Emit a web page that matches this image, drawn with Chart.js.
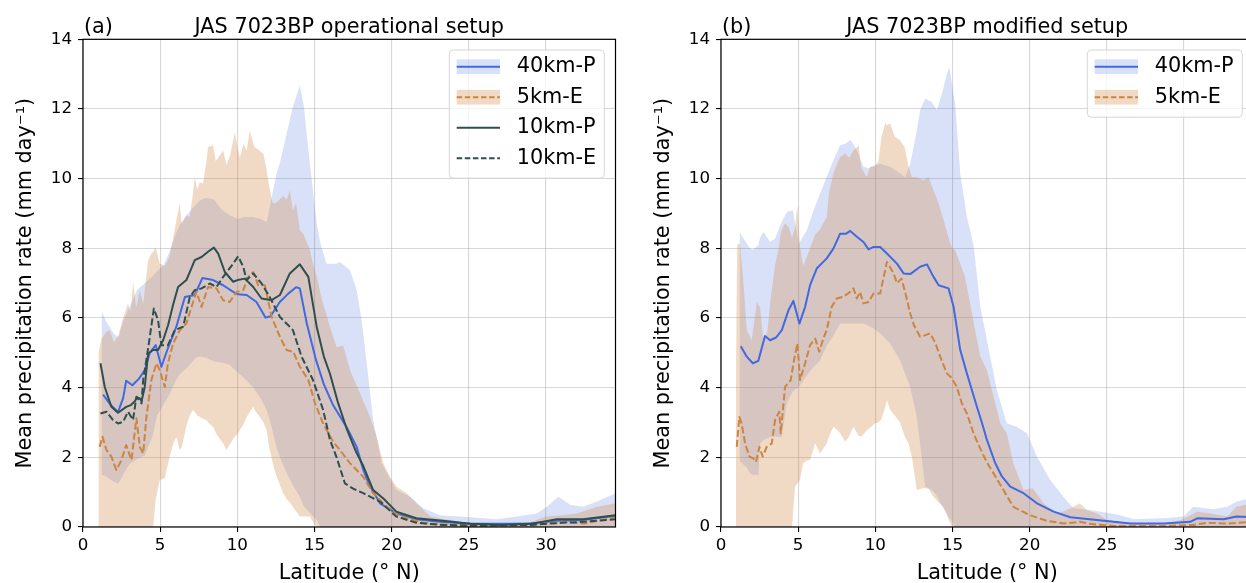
<!DOCTYPE html>
<html><head><meta charset="utf-8">
<script src="https://cdn.jsdelivr.net/npm/chart.js@4.4.1/dist/chart.umd.min.js"></script>
<style>
html,body{margin:0;padding:0;background:#fff;overflow:hidden;width:1246px;height:583px;position:relative;}
#ca{position:absolute;left:0;top:0;}
#cb{position:absolute;left:638px;top:0;}
</style></head><body>
<canvas id="ca" width="624" height="584"></canvas>
<canvas id="cb" width="624" height="584"></canvas>
<script>
// ---------- axis ticks ----------
const xTickStep = 5;          // 0,5,...,30
const yTickStep = 2;          // 0,2,...,14
const xMax = 34.5, yMax = 14;

// ---------- panel (a): operational setup ----------
const latA40 = [1.3,1.8,2.27,2.6,2.8,3.2,3.63,4.0,4.33,4.71,5.08,5.5,6.05,6.6,7.24,7.74,8.43,9.08,9.73,10.05,10.6,11.24,11.83,12.15,12.75,13.3,13.8,14.05,14.5,15.1,15.6,16.2,17.1,17.73,18.16,18.5,19.24,20.3,21.6,23.1,25.1,26.8,29,30.7,32.4,34.5];
const valA40 = [3.8,3.5,3.3,3.7,4.2,4.07,4.26,4.5,5.0,5.22,4.6,5.13,5.75,6.6,6.66,7.15,7.09,6.94,6.75,6.68,6.66,6.46,6.01,6.05,6.46,6.7,6.88,6.85,5.84,4.79,4.1,3.5,2.85,2.3,1.64,1.25,0.68,0.39,0.22,0.15,0.09,0.09,0.1,0.18,0.2,0.32];

const latA5E = [1.08,1.26,1.52,1.84,2.16,2.49,2.8,3.14,3.46,3.68,3.9,4.11,4.43,4.76,4.97,5.3,5.5,5.84,6.27,6.7,7.03,7.35,7.68,8.1,8.65,9.08,9.51,9.95,10.38,10.7,11.03,11.35,11.78,12.22,12.76,13.19,13.62,14.05,14.6,15.03,15.56,16.2,16.65,17.3,18.16,18.8,19.68,20.5,22.05,23.8,26,29,31,32.5,34.5];
const valA5E = [2.3,2.59,2.21,2.02,1.64,1.92,2.35,1.92,3.12,2.3,2.11,3.16,4.22,4.7,4.5,4.02,4.7,5.27,5.65,5.84,6.32,6.75,6.32,6.89,6.85,6.51,6.46,6.75,6.8,7.18,7.32,6.94,6.94,6.03,5.46,5.08,5.03,4.6,4.22,3.55,2.97,2.45,2.21,1.83,1.44,0.97,0.58,0.32,0.12,0.06,0.03,0.06,0.15,0.1,0.28];

const latA10P = [1.13,1.41,1.84,2.27,2.8,3.1,3.35,3.5,3.68,3.8,4.0,4.22,4.54,4.86,5.19,5.51,5.85,6.16,6.7,7.0,7.24,7.68,8.1,8.48,8.76,9.19,9.73,10.1,10.49,11.03,11.57,12.22,12.76,13.4,14.05,14.6,15.14,15.6,16.0,16.5,17.1,17.7,18.16,18.8,19.46,20.3,21.6,23.3,25.1,27,29,30.7,32.4,34.5];
const valA10P = [4.7,4.02,3.45,3.28,3.45,3.5,3.6,3.72,3.69,3.62,4.02,4.98,5.08,5.08,5.36,5.79,6.4,6.89,7.09,7.4,7.66,7.75,7.9,8.02,7.85,7.32,7.04,7.1,7.13,6.89,6.56,6.51,6.66,7.28,7.54,7.18,5.75,4.9,4.4,3.6,2.8,2.15,1.75,1.06,0.82,0.44,0.25,0.18,0.09,0.06,0.09,0.22,0.22,0.34];

const latA10E = [1.13,1.52,1.95,2.27,2.6,2.92,3.24,3.46,3.79,3.9,4.22,4.59,4.86,5.08,5.5,5.95,6.49,6.92,7.24,7.68,8.22,8.65,9.08,9.73,10.05,10.38,10.6,11.03,11.57,12.1,12.76,13.3,13.6,14.16,14.9,15.56,16.0,16.43,16.97,17.5,18.16,19.24,20.3,21.6,23.3,25,29,31,32.5,34.5];
const valA10E = [3.26,3.31,3.07,2.97,3.02,3.31,3.07,3.74,3.55,4.22,5.13,6.27,5.94,5.22,5.22,5.65,5.75,6.6,6.8,6.85,6.99,6.89,7.18,7.56,7.77,7.47,7.09,7.28,6.99,6.6,6.03,5.79,5.65,4.89,4.22,3.36,2.5,2.0,1.25,1.1,0.97,0.73,0.3,0.12,0.06,0.04,0.06,0.12,0.15,0.22];

// 40km-P spread band (a)
const bandA40Lat = [1.2,1.5,2.0,2.3,2.6,3.0,3.5,4.0,4.5,4.8,5.2,5.6,6.0,6.3,6.8,7.3,7.6,8.0,8.5,9.0,9.5,10.0,10.5,11.0,11.5,11.9,12.2,12.54,12.75,13.2,13.6,14.05,14.3,14.7,15.14,15.4,15.78,16.4,16.65,17.3,17.73,18.05,18.38,18.8,19.35,20.3,21.2,22.05,23.1,25.1,26.8,28.1,29.4,30.05,30.8,31.6,32.4,33.3,34.5];
const bandA40Lo  = [1.5,1.45,1.3,1.25,1.5,1.8,1.95,2.05,2.6,3.2,3.5,3.8,4.2,4.4,4.6,4.85,4.9,4.85,4.75,4.72,4.65,4.45,4.25,4.02,3.7,3.36,2.9,2.3,2.0,1.54,1.2,0.87,0.6,0.4,0.2,0,0,0,0,0,0,0,0,0,0,0,0,0,0,0,0,0,0,0,0,0,0,0,0];
const bandA40Hi  = [6.2,5.9,5.55,5.45,5.9,6.3,6.8,7.0,7.2,7.35,7.5,7.9,8.4,8.7,9.0,9.25,9.38,9.45,9.4,9.1,8.95,8.85,8.9,8.9,8.85,8.75,9.4,10.15,10.45,11.3,12.06,12.68,12.1,10.43,8.71,8.1,7.56,7.56,7.61,7.37,6.8,5.94,4.7,3.07,1.83,1.06,0.87,0.54,0.34,0.28,0.22,0.3,0.39,0.58,0.87,0.63,0.58,0.73,0.97];

// 5km-E spread band (a)
const bandA5Lat = [1.0,1.2,1.5,1.73,2.0,2.3,2.6,2.9,3.1,3.24,3.45,3.68,3.9,4.1,4.22,4.43,4.55,4.71,4.97,5.3,5.6,5.85,6.05,6.27,6.4,6.7,6.92,7.13,7.24,7.4,7.57,7.78,8.0,8.1,8.43,8.6,8.76,9.08,9.3,9.55,9.84,10.0,10.16,10.4,10.6,10.81,11.03,11.13,11.46,11.7,11.9,12.05,12.3,12.5,12.97,13.2,13.4,13.6,13.8,14.05,14.3,14.7,14.9,15.14,15.5,16.0,16.43,16.86,17.3,17.95,18.6,19.03,19.46,19.89,20.3,20.97,21.6,22.5,23.5,24.6,26.5,29,30,31,32,33.3,34.5];
const bandA5Lo  = [0,0,0,0,0,0,0,0,0,0,0,0,0,0,0,0,0,0.8,1.35,1.4,2.0,2.4,2.59,2.2,2.3,2.9,3.2,3.36,3.3,3.2,3.16,3.1,3.07,3.0,2.88,2.7,2.6,2.4,2.21,2.4,2.6,2.65,2.78,2.95,3.16,3.3,3.45,3.35,3.16,3.0,2.78,2.3,1.83,1.5,0.97,0.8,0.7,0.58,0.45,0.3,0.3,0.3,0.15,0,0,0,0,0,0,0,0,0,0,0,0,0,0,0,0,0,0,0,0,0,0,0,0];
const bandA5Hi  = [5.0,5.4,5.6,5.65,5.3,5.5,6.0,6.4,6.2,7.04,6.3,6.8,6.4,7.2,7.66,7.85,7.9,8.04,7.56,7.5,7.75,8.3,8.81,9.29,8.7,8.95,8.9,9.6,10.05,9.7,9.9,9.86,10.5,10.91,10.96,10.5,10.6,10.81,10.4,10.7,11.34,10.9,10.6,11.0,10.8,11.39,11.0,10.9,10.8,10.7,10.24,9.8,9.29,9.3,9.5,9.4,9.67,9.1,9.3,8.52,8.4,7.95,7.56,7.2,6.5,5.75,5.17,5.2,4.5,3.84,3.16,2.59,1.83,1.44,1.16,0.97,0.68,0.3,0.22,0.14,0.1,0.14,0.3,0.34,0.39,0.58,0.68];

// ---------- panel (b): modified setup ----------
const latB40 = [1.28,1.67,2.06,2.42,2.85,3.18,3.57,3.94,4.37,4.69,5.08,5.45,5.77,6.2,6.85,7.28,7.72,8.11,8.37,8.8,9.23,9.56,9.88,10.31,10.75,11.4,11.83,12.26,12.9,13.34,13.77,14.1,14.74,15.07,15.5,15.93,16.58,16.9,17.23,17.77,18.2,18.74,19.6,20.47,21.55,22.63,24.36,26.52,28.68,30.4,30.85,32.57,33.4,34.5];
const valB40 = [5.19,4.89,4.7,4.77,5.48,5.36,5.44,5.65,6.22,6.49,5.84,6.32,6.94,7.42,7.71,7.99,8.42,8.42,8.5,8.33,8.18,7.97,8.04,8.04,7.85,7.56,7.28,7.26,7.47,7.54,7.18,6.94,6.85,6.32,5.08,4.41,3.45,3.0,2.5,1.83,1.45,1.16,0.97,0.68,0.44,0.28,0.2,0.1,0.1,0.15,0.25,0.22,0.3,0.28];

const latB5E = [1.02,1.19,1.34,1.56,1.84,2.1,2.27,2.49,2.7,2.96,3.29,3.5,3.78,3.87,4.15,4.52,4.73,4.95,5.12,5.45,5.77,6.1,6.37,6.63,6.85,7.17,7.5,7.93,8.37,8.58,8.8,9.0,9.23,9.56,9.88,10.31,10.55,10.75,10.9,11.18,11.4,11.69,11.9,12.26,12.5,12.9,13.2,13.55,13.9,14.2,14.63,14.9,15.28,15.6,15.93,16.36,16.8,17.23,17.66,18.3,18.94,20.0,21.1,22.2,23.25,23.9,25.4,28.7,30.6,31.5,32.8,34.5];
const valB5E = [2.3,3.16,2.97,2.4,2.02,1.97,1.87,2.3,2.02,2.3,2.4,3.07,3.31,2.69,4.02,4.22,4.79,5.27,4.22,4.7,5.22,5.41,5.03,5.41,5.65,6.32,6.56,6.61,6.75,6.85,6.56,6.75,6.42,6.46,6.7,6.7,7.2,7.61,7.5,7.28,7.0,7.13,6.8,6.13,5.79,5.46,5.5,5.56,5.27,4.89,4.41,4.3,4.02,3.55,3.26,2.69,2.25,1.85,1.54,1.06,0.58,0.34,0.18,0.1,0.15,0.09,0.03,0.03,0.06,0.12,0.1,0.15];

const bandB40Lat = [1.2,1.67,1.88,2.06,2.42,2.53,2.75,3.18,3.5,3.94,4.26,4.65,5.04,5.56,6.0,6.42,6.85,7.28,7.72,8.04,8.4,8.8,9.23,9.55,9.88,10.31,10.96,11.6,11.93,12.26,12.69,12.9,13.23,13.66,13.99,14.31,14.63,14.8,15.07,15.17,15.5,15.93,16.36,16.8,17.44,17.87,18.52,19.17,19.82,20.47,21.33,22.18,22.83,23.9,25.0,25.9,26.74,28.7,29.97,30.6,31.9,32.8,33.4,34.5];
const bandB40Lo  = [1.9,1.7,1.54,1.5,1.49,2.4,2.5,2.59,2.59,2.59,3.55,3.9,4.02,4.35,4.6,4.79,5.2,5.5,5.84,5.84,5.84,5.84,5.84,5.78,5.7,5.56,5.27,4.79,4.4,4.02,3.16,2.4,1.16,1.06,0.9,0.6,0.39,0.25,0.1,0,0,0,0,0,0,0,0,0,0,0,0,0,0,0,0,0,0,0,0,0,0,0,0,0];
const bandB40Hi  = [8.47,8.14,8.0,7.95,8.09,8.3,8.47,8.18,8.28,8.76,9.04,9.09,8.14,8.52,9.09,9.57,10.05,10.53,10.96,11.0,11.12,10.81,10.34,10.3,10.36,10.43,10.34,10.15,10.05,10.43,11.39,11.96,12.3,12.2,11.96,12.44,13.0,13.2,12.4,12.15,10.15,8.9,8.1,6.32,4.89,3.93,2.97,2.88,2.69,2.02,1.35,0.87,0.54,0.49,0.41,0.34,0.22,0.25,0.3,0.58,0.51,0.58,0.73,0.85];

const bandB5Lat = [0.97,1.05,1.23,1.44,1.67,1.99,2.32,2.53,2.75,3.0,3.2,3.5,3.7,3.9,4.15,4.4,4.6,4.8,4.95,5.12,5.32,5.56,5.77,6.1,6.42,6.85,7.0,7.28,7.5,7.72,8.04,8.3,8.58,8.91,9.1,9.45,9.66,9.98,10.2,10.4,10.64,10.75,10.96,11.26,11.6,11.9,12.15,12.37,12.69,13.12,13.44,13.77,14.1,14.42,14.85,15.0,15.17,15.5,15.8,16.1,16.4,16.8,17.23,17.66,18.1,18.52,18.94,19.6,20.2,20.9,21.76,22.4,23.25,23.7,24.36,25.0,26.5,28.7,29.8,30.85,31.7,32.8,33.4,34.5];
const bandB5Lo  = [0,0,0,0,0,0,0,0,0,0,0,0,0,0,0,0,0,1.16,1.25,1.35,1.83,1.9,1.92,2.4,2.11,2.4,2.6,2.88,2.8,2.69,2.45,2.6,2.88,2.62,2.6,2.78,2.85,2.98,3.0,3.1,3.45,3.64,3.36,3.2,3.0,2.6,2.4,2.0,1.06,1.12,1.1,0.87,0.7,0.58,0.1,0,0,0,0,0,0,0,0,0,0,0,0,0,0,0,0,0,0,0,0,0,0,0,0,0,0,0,0,0];
const bandB5Hi  = [4.5,8.1,8.14,7.09,5.65,5.36,6.46,6.3,5.36,5.6,6.5,7.5,7.9,8.5,8.71,8.6,8.3,8.6,9.24,8.04,7.5,7.75,8.0,8.4,8.55,8.9,9.6,10.15,10.4,10.62,10.72,10.6,10.8,10.96,10.3,10.05,10.34,10.36,10.5,11.2,11.6,11.53,11.58,11.2,11.1,10.9,10.34,10.05,10.05,9.95,10.05,9.67,9.29,8.81,8.14,8.0,7.95,7.56,7.2,6.5,5.8,4.9,4.5,3.74,2.97,2.69,1.83,1.06,1.11,0.68,0.39,0.49,0.68,0.49,0.39,0.2,0.1,0.1,0.2,0.44,0.39,0.3,0.58,0.68];

// ---------- styles ----------
const FONT = '"DejaVu Sans", "Liberation Sans", sans-serif';
const C40 = '#4169e1', C5 = '#cd853f', C10 = '#2f4f4f';
const F40 = 'rgba(65,105,225,0.2)', F5 = 'rgba(205,133,63,0.3)';
const DASH = [7, 3];

function xy(lat, v) { return lat.map((x, i) => ({x: x, y: v[i]})); }

function lineDs(label, lat, v, color, dash, order) {
  return {label, data: xy(lat, v), borderColor: color, borderWidth: 2, borderDash: dash || [],
    borderCapStyle: 'butt', borderJoinStyle: 'round', pointRadius: 0, fill: false, tension: 0, order};
}
function edgeDs(lat, v, order, fill, bg) {
  return {data: xy(lat, v), borderColor: 'transparent', borderWidth: 0.001, pointRadius: 0,
    fill: fill, backgroundColor: bg || 'transparent', tension: 0, order};
}

function makeDeco(title, tag, items) {
  return {
    id: 'deco',
    afterDatasetsDraw(chart) {
      const {ctx, chartArea: a} = chart;
      ctx.save();
      ctx.strokeStyle = '#000'; ctx.lineWidth = 1.2;
      ctx.strokeRect(a.left, a.top, a.right - a.left, a.bottom - a.top);
      // legend
      const n = items.length, rowH = 30.5, bw = 155;
      const bh = 16.7 + rowH * (n - 1) + 20;
      const bx = a.right - 11.2 - bw, by = a.top + 10.7, r = 4;
      ctx.beginPath();
      ctx.moveTo(bx + r, by); ctx.lineTo(bx + bw - r, by); ctx.arcTo(bx + bw, by, bx + bw, by + r, r);
      ctx.lineTo(bx + bw, by + bh - r); ctx.arcTo(bx + bw, by + bh, bx + bw - r, by + bh, r);
      ctx.lineTo(bx + r, by + bh); ctx.arcTo(bx, by + bh, bx, by + bh - r, r);
      ctx.lineTo(bx, by + r); ctx.arcTo(bx, by, bx + r, by, r); ctx.closePath();
      ctx.fillStyle = 'rgba(255,255,255,0.8)'; ctx.fill();
      ctx.strokeStyle = 'rgba(204,204,204,0.8)'; ctx.lineWidth = 1; ctx.stroke();
      items.forEach((it, i) => {
        const cy = by + 16.7 + i * rowH, hx = bx + 7.4, hw = 43.3;
        if (it.patch) { ctx.fillStyle = it.patch; ctx.fillRect(hx, cy - 7.35, hw, 14.7); }
        ctx.strokeStyle = it.stroke; ctx.lineWidth = 2; ctx.setLineDash(it.dashes);
        ctx.beginPath(); ctx.moveTo(hx, cy); ctx.lineTo(hx + hw, cy); ctx.stroke();
        ctx.setLineDash([]);
        ctx.fillStyle = '#000'; ctx.font = '20.8px ' + FONT;
        ctx.textBaseline = 'middle'; ctx.textAlign = 'left';
        ctx.fillText(it.text, bx + 67.4, cy);
      });
      // title + panel tag
      ctx.fillStyle = '#000'; ctx.font = '20.8px ' + FONT; ctx.textBaseline = 'alphabetic';
      ctx.textAlign = 'center'; ctx.fillText(title, (a.left + a.right) / 2, 33.3);
      ctx.textAlign = 'left'; ctx.fillText(tag, a.left + 1, 33.3);
      ctx.restore();
    }
  };
}

function gridOpts() {
  return {color: 'rgba(176,176,176,0.5)', lineWidth: 1.1, drawTicks: true, tickLength: 5,
          tickColor: '#000', tickWidth: 1.1};
}
function options() {
  return {
    responsive: false, animation: false, events: [],
    layout: {padding: {left: 0, right: 8.5, top: 39.3, bottom: 0}},
    plugins: {legend: {display: false}, tooltip: {enabled: false},
      filler: {drawTime: 'beforeDatasetsDraw'}},
    scales: {
      x: {type: 'linear', min: 0, max: xMax,
        afterFit(s) { s.height = 57; },
        ticks: {stepSize: xTickStep, includeBounds: false, padding: 4, color: '#000', maxRotation: 0,
          autoSkip: false, font: {family: FONT, size: 16.7, lineHeight: 1.2}},
        grid: gridOpts(), border: {display: false},
        title: {display: true, text: 'Latitude (° N)', color: '#000',
          font: {family: FONT, size: 20.8, lineHeight: 1.0}, padding: {top: 0, bottom: 0}}},
      y: {type: 'linear', min: 0, max: yMax,
        afterFit(s) { s.width = 83; },
        ticks: {stepSize: yTickStep, includeBounds: false, padding: 6, color: '#000',
          font: {family: FONT, size: 16.7, lineHeight: 1.2}},
        grid: gridOpts(), border: {display: false},
        title: {display: true, text: 'Mean precipitation rate (mm day⁻¹)', color: '#000',
          font: {family: FONT, size: 20.8, lineHeight: 1.2}, padding: {top: 13.5, bottom: 0}}}
    }
  };
}

const LDASH = [5.5, 2.6];
const itemsA = [
  {text: '40km-P', patch: F40, stroke: C40, dashes: []},
  {text: '5km-E', patch: F5, stroke: C5, dashes: LDASH},
  {text: '10km-P', patch: null, stroke: C10, dashes: []},
  {text: '10km-E', patch: null, stroke: C10, dashes: LDASH}
];
const itemsB = itemsA.slice(0, 2);

new Chart(document.getElementById('ca'), {
  type: 'line',
  data: {datasets: [
    lineDs('10km-E', latA10E, valA10E, C10, DASH, 1),
    lineDs('10km-P', latA10P, valA10P, C10, null, 2),
    lineDs('5km-E', latA5E, valA5E, C5, DASH, 3),
    lineDs('40km-P', latA40, valA40, C40, null, 4),
    edgeDs(bandA5Lat, bandA5Lo, 5, false),
    edgeDs(bandA5Lat, bandA5Hi, 6, {target: 4}, F5),
    edgeDs(bandA40Lat, bandA40Lo, 7, false),
    edgeDs(bandA40Lat, bandA40Hi, 8, {target: 6}, F40)
  ]},
  options: options(),
  plugins: [makeDeco('JAS 7023BP operational setup', '(a)', itemsA)]
});

new Chart(document.getElementById('cb'), {
  type: 'line',
  data: {datasets: [
    lineDs('5km-E', latB5E, valB5E, C5, DASH, 3),
    lineDs('40km-P', latB40, valB40, C40, null, 4),
    edgeDs(bandB5Lat, bandB5Lo, 5, false),
    edgeDs(bandB5Lat, bandB5Hi, 6, {target: 2}, F5),
    edgeDs(bandB40Lat, bandB40Lo, 7, false),
    edgeDs(bandB40Lat, bandB40Hi, 8, {target: 4}, F40)
  ]},
  options: options(),
  plugins: [makeDeco('JAS 7023BP modified setup', '(b)', itemsB)]
});
</script>
</body></html>
